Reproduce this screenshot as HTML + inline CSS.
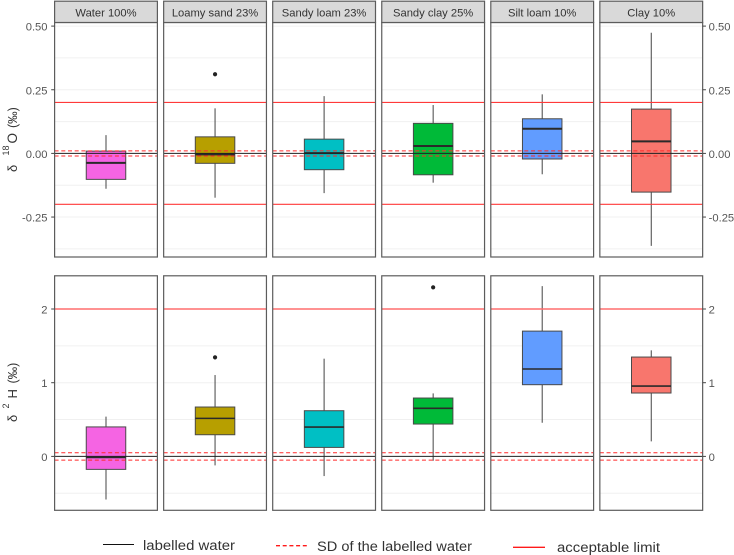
<!DOCTYPE html>
<html lang="en">
<head>
<meta charset="utf-8">
<title>Isotope boxplots</title>
<style>
html,body{margin:0;padding:0;background:#fff;}
svg{display:block;font-family:"Liberation Sans",sans-serif;}
</style>
</head>
<body>
<svg id="chart" width="734" height="555" viewBox="0 0 734 555" xmlns="http://www.w3.org/2000/svg">
  <g id="grid-layer"></g>
  <g id="box-layer"></g>
  <g id="ref-layer"></g>
  <g id="frame-layer"></g>
  <g id="axis-layer"></g>
  <text transform="translate(17,172) rotate(-90)" font-size="13" fill="#333">δ</text>
  <text transform="translate(9,155.5) rotate(-90)" font-size="9" fill="#333">18</text>
  <text transform="translate(17,143.5) rotate(-90)" font-size="13.5" fill="#333">O</text>
  <text transform="translate(17,128) rotate(-90)" font-size="12.5" fill="#333">(‰)</text>
  <text transform="translate(17,422) rotate(-90)" font-size="13" fill="#333">δ</text>
  <text transform="translate(9,408.5) rotate(-90)" font-size="9" fill="#333">2</text>
  <text transform="translate(17,398.5) rotate(-90)" font-size="13" fill="#333">H</text>
  <text transform="translate(17,383.5) rotate(-90)" font-size="12.5" fill="#333">(‰)</text>
  <g>
    <line x1="103" x2="134" y1="544.5" y2="544.5" stroke="#111" stroke-width="1"/>
    <text x="143" y="550" font-size="13.5" fill="#333" textLength="92" lengthAdjust="spacingAndGlyphs">labelled water</text>
    <line x1="276" x2="308" y1="545.7" y2="545.7" stroke="#ff1a1a" stroke-width="1.3" stroke-dasharray="4 2.7"/>
    <text x="317" y="551" font-size="13.5" fill="#333" textLength="155" lengthAdjust="spacingAndGlyphs">SD of the labelled water</text>
    <line x1="513" x2="545" y1="547.3" y2="547.3" stroke="#ff1a1a" stroke-width="1.3"/>
    <text x="557" y="552" font-size="13.5" fill="#333" textLength="103" lengthAdjust="spacingAndGlyphs">acceptable limit</text>
  </g>
</svg>
<script>
const categories = ["Water 100%", "Loamy sand 23%", "Sandy loam 23%", "Sandy clay 25%", "Silt loam 10%", "Clay 10%"];
const colours = ["#F564E3", "#B79F00", "#00BFC4", "#00BA38", "#619CFF", "#F8766D"];

const o18WhiskerLow = [-0.139, -0.174, -0.156, -0.115, -0.082, -0.363];
const o18Q1 = [-0.102, -0.039, -0.064, -0.084, -0.022, -0.152];
const o18Median = [-0.037, -0.004, 0.001, 0.029, 0.097, 0.047];
const o18Q3 = [0.009, 0.065, 0.056, 0.118, 0.136, 0.174];
const o18WhiskerHigh = [0.072, 0.177, 0.225, 0.19, 0.232, 0.474];
const o18Outliers = [[], [0.311], [], [], [], []];
const o18MajorTicks = [0.5, 0.25, 0, -0.25];
const o18TickLabels = ["0.50", "0.25", "0.00", "-0.25"];
const o18MinorTicks = [0.375, 0.125, -0.125, -0.375];
const o18Limits = [0.2, -0.2];
const o18Sd = [0.01, -0.01];

const h2WhiskerLow = [-0.584, -0.122, -0.267, -0.059, 0.457, 0.204];
const h2Q1 = [-0.176, 0.294, 0.122, 0.439, 0.973, 0.86];
const h2Median = [-0.014, 0.516, 0.398, 0.652, 1.186, 0.955];
const h2Q3 = [0.40, 0.67, 0.62, 0.792, 1.70, 1.348];
const h2WhiskerHigh = [0.54, 1.104, 1.326, 0.855, 2.31, 1.439];
const h2Outliers = [[], [1.344], [], [2.294], [], []];
const h2MajorTicks = [2, 1, 0];
const h2TickLabels = ["2", "1", "0"];
const h2MinorTicks = [1.5, 0.5, -0.5];
const h2Limits = [2];
const h2Sd = [0.05, -0.05];

const NS = "http://www.w3.org/2000/svg";
const gridLayer = document.getElementById("grid-layer");
const boxLayer = document.getElementById("box-layer");
const refLayer = document.getElementById("ref-layer");
const frameLayer = document.getElementById("frame-layer");
const axisLayer = document.getElementById("axis-layer");

function mk(parent, tag, attrs) {
  const el = document.createElementNS(NS, tag);
  for (const k in attrs) el.setAttribute(k, attrs[k]);
  parent.appendChild(el);
  return el;
}

const panelLeft0 = 54.6;
const panelPitch = 109.05;
const panelW = 102.8;
function panelX(i) { return panelLeft0 + i * panelPitch; }
function centerX(i) { return panelX(i) + panelW / 2; }
const lastRight = panelX(5) + panelW;

function yTop(v) { return 153.4 - v * 254.6; }
function yBottom(v) { return 456.4 - v * 73.7; }

const rows = [
  { key: "oxygen", y: yTop, top: 22.5, bottom: 257, low: o18WhiskerLow, q1: o18Q1, med: o18Median, q3: o18Q3, high: o18WhiskerHigh,
    out: o18Outliers, major: o18MajorTicks, labels: o18TickLabels, minor: o18MinorTicks, limits: o18Limits, sd: o18Sd, limitW: 1.1, limitC: "#ff3a3a", medW: 2 },
  { key: "hydrogen", y: yBottom, top: 275.8, bottom: 510.3, low: h2WhiskerLow, q1: h2Q1, med: h2Median, q3: h2Q3, high: h2WhiskerHigh,
    out: h2Outliers, major: h2MajorTicks, labels: h2TickLabels, minor: h2MinorTicks, limits: h2Limits, sd: h2Sd, limitW: 1.6, limitC: "#ff6f6f", medW: 1.6 }
];

const boxW = 39.5;

rows.forEach(function (r) {
  categories.forEach(function (cat, i) {
    const x0 = panelX(i), x1 = x0 + panelW, cx = centerX(i);

    r.major.concat(r.minor).forEach(function (v) {
      const g = mk(gridLayer, "line", { x1: x0, x2: x1, y1: r.y(v), y2: r.y(v), stroke: "#f0f0f0", "stroke-width": 1 });
      
      
    });

    const wh = mk(boxLayer, "line", { x1: cx, x2: cx, y1: r.y(r.high[i]), y2: r.y(r.low[i]), stroke: "#444", "stroke-width": 1 });
    
    

    const box = mk(boxLayer, "rect", { x: cx - boxW / 2, y: r.y(r.q3[i]), width: boxW, height: r.y(r.q1[i]) - r.y(r.q3[i]), fill: colours[i], stroke: "#4a4a4a", "stroke-width": 1 });
    
    

    const med = mk(boxLayer, "line", { x1: cx - boxW / 2, x2: cx + boxW / 2, y1: r.y(r.med[i]), y2: r.y(r.med[i]), stroke: "#2a2a2a", "stroke-width": r.medW });
    
    

    r.out[i].forEach(function (v) {
      const p = mk(boxLayer, "circle", { cx: cx, cy: r.y(v), r: 2.1, fill: "#222" });
      
      
    });

    const zero = mk(refLayer, "line", { x1: x0, x2: x1, y1: r.y(0), y2: r.y(0), stroke: "#222", "stroke-width": 1 });
    
    

    r.sd.forEach(function (v) {
      const s = mk(refLayer, "line", { x1: x0, x2: x1, y1: r.y(v), y2: r.y(v), stroke: "#ff2a2a", "stroke-width": 1, "stroke-dasharray": "4 2.7" });
      
      
    });

    r.limits.forEach(function (v) {
      const l = mk(refLayer, "line", { x1: x0, x2: x1, y1: r.y(v), y2: r.y(v), stroke: r.limitC, "stroke-width": r.limitW });
      
      
    });

    const f = mk(frameLayer, "rect", { x: x0, y: r.top, width: panelW, height: r.bottom - r.top, fill: "none", stroke: "#5c5c5c", "stroke-width": 1.2 });
    
    
  });

  r.major.forEach(function (v, j) {
    const yy = r.y(v);
    const tl = mk(axisLayer, "line", { x1: 51.2, x2: panelLeft0, y1: yy, y2: yy, stroke: "#444", "stroke-width": 1 });
    
    
    const tr = mk(axisLayer, "line", { x1: lastRight, x2: lastRight + 3.3, y1: yy, y2: yy, stroke: "#444", "stroke-width": 1 });
    
    
    const ll = mk(axisLayer, "text", { x: 47.5, y: yy + 4.5, "text-anchor": "end", "font-size": 11.2, fill: "#555" });
    ll.textContent = r.labels[j];
    
    
    const rl = mk(axisLayer, "text", { x: lastRight + 6, y: yy + 4.5, "font-size": 11.2, fill: "#555" });
    rl.textContent = r.labels[j];
    
    
  });
});

categories.forEach(function (cat, i) {
  const st = mk(frameLayer, "rect", { x: panelX(i), y: 1.2, width: panelW, height: 21.3, fill: "#d9d9d9", stroke: "#5c5c5c", "stroke-width": 1.2 });
  
  
  const tx = mk(frameLayer, "text", { x: centerX(i), y: 16.5, "text-anchor": "middle", "font-size": 11.2, fill: "#333" });
  tx.textContent = cat;
  
  
});
</script>
</body>
</html>
